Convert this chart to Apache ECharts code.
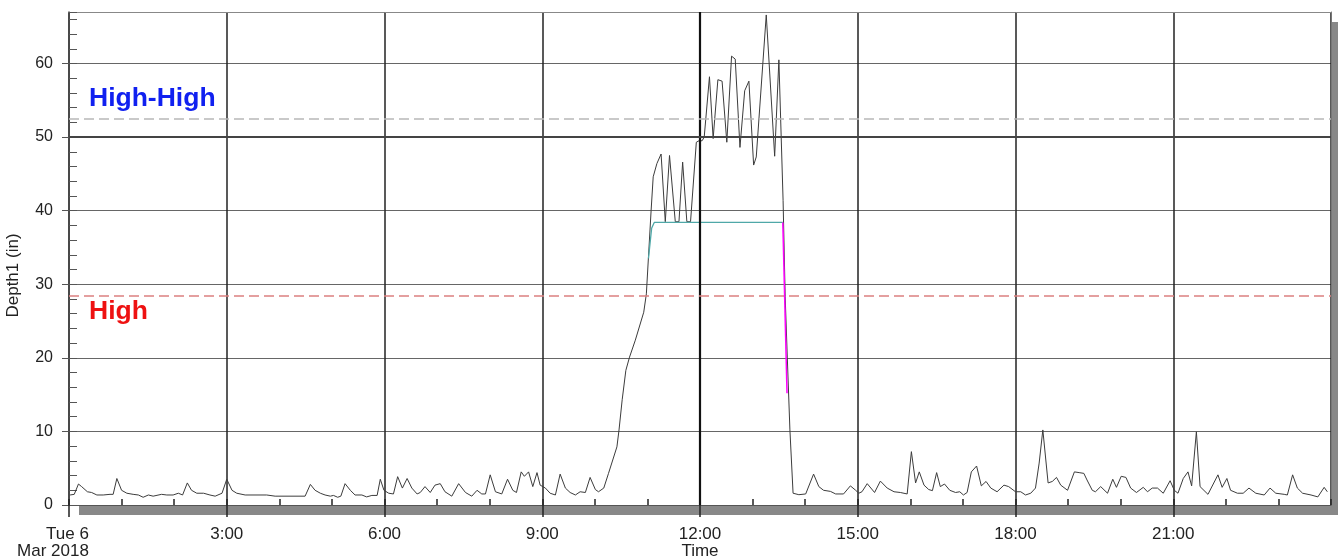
<!DOCTYPE html>
<html>
<head>
<meta charset="utf-8">
<script src="https://cdn.jsdelivr.net/npm/echarts@6/dist/echarts.min.js"></script>
<style>
html,body{margin:0;padding:0;background:#fff;}
#chart{width:1338px;height:559px;}
</style>
</head>
<body>
<div id="chart"></div>
<script>
// ---- data (hours since 0:00 Tue 6 Mar 2018, depth in inches) ----
const timeHours = [
 0.02,0.10,0.18,0.24,0.35,0.43,0.53,0.65,0.78,0.84,0.91,1.00,1.10,1.22,1.32,1.41,1.51,1.60,1.76,1.86,
 1.98,2.08,2.16,2.25,2.33,2.43,2.56,2.68,2.78,2.91,3.00,3.10,3.19,3.35,3.76,3.92,4.49,
 4.59,4.68,4.78,4.87,4.97,5.03,5.11,5.17,5.25,5.35,5.44,5.57,5.66,5.76,5.86,5.92,5.99,6.08,6.17,
 6.25,6.34,6.43,6.52,6.62,6.68,6.77,6.87,6.96,7.06,7.15,7.28,7.41,7.54,7.66,7.76,7.85,7.92,8.01,
 8.11,8.23,8.34,8.44,8.51,8.60,8.66,8.74,8.82,8.90,8.96,9.06,9.15,9.25,9.34,9.44,9.53,9.63,9.72,
 9.82,9.91,10.01,10.07,10.17,10.26,10.42,10.46,10.52,10.59,10.66,10.77,10.93,10.98,11.02,11.07,
 11.11,11.18,11.26,11.34,11.42,11.53,11.60,11.67,11.75,11.82,11.93,11.98,12.04,12.08,12.18,12.25,
 12.34,12.42,12.51,12.60,12.67,12.76,12.85,12.93,13.02,13.07,13.26,13.42,13.50,13.58,13.62,13.66,
 13.71,13.77,13.88,14.01,14.16,14.26,14.35,14.48,14.58,14.73,14.86,14.96,15.02,15.08,15.18,15.32,
 15.43,15.56,15.69,15.81,15.94,16.02,16.10,16.17,16.26,16.35,16.42,16.50,16.57,16.65,16.75,16.86,
 16.94,17.01,17.08,17.16,17.26,17.35,17.44,17.53,17.65,17.78,17.87,18.00,18.10,18.19,18.29,18.38,
 18.45,18.52,18.62,18.70,18.78,18.86,18.99,19.12,19.21,19.30,19.36,19.46,19.52,19.62,19.75,19.85,
 19.92,20.01,20.10,20.19,20.30,20.43,20.51,20.60,20.70,20.81,20.94,21.02,21.09,21.19,21.28,21.35,
 21.44,21.51,21.66,21.85,21.93,22.02,22.09,22.22,22.33,22.44,22.57,22.73,22.84,22.95,23.11,23.17,
 23.27,23.36,23.46,23.62,23.75,23.87,23.93
];
const depthIn = [
 1.36,1.45,2.85,2.5,1.8,1.7,1.36,1.36,1.45,1.45,3.6,2.0,1.6,1.45,1.36,1.05,1.36,1.2,1.45,1.36,
 1.36,1.6,1.36,3.0,2.0,1.6,1.6,1.36,1.2,1.6,3.5,2.0,1.6,1.36,1.36,1.2,1.2,
 2.8,2.0,1.6,1.36,1.2,1.3,1.05,1.2,2.9,2.0,1.36,1.36,1.1,1.3,1.3,3.5,2.0,1.6,1.5,
 3.85,2.3,3.6,2.3,1.5,1.7,2.5,1.7,2.7,2.9,1.8,1.2,2.9,1.7,1.2,2.0,1.5,1.5,4.1,
 1.8,1.5,3.5,2.0,1.7,4.5,3.9,4.5,2.5,4.4,2.7,2.3,1.6,1.36,4.2,2.3,1.7,1.36,1.8,
 1.7,3.75,2.1,1.8,2.3,4.3,7.9,10.2,14.3,18.3,20.1,22.4,26.2,28.7,33.7,40.0,
 44.6,46.4,47.7,38.5,47.5,38.5,38.5,46.6,38.5,38.5,49.3,49.5,49.5,50.0,58.2,49.8,
 57.8,57.6,49.3,61.0,60.6,48.6,56.3,57.6,46.2,47.3,66.6,47.4,60.5,41.4,28.3,20.1,
 10.2,1.6,1.4,1.5,4.2,2.5,2.0,1.85,1.5,1.5,2.6,2.0,1.6,1.8,2.9,1.7,
 3.25,2.3,1.8,1.7,1.5,7.25,3.0,4.5,2.7,2.1,1.95,4.4,2.5,2.85,2.0,1.7,
 1.8,1.36,1.7,4.5,5.3,2.6,3.2,2.3,1.8,2.7,2.5,1.8,1.8,1.36,1.6,2.3,
 5.7,10.2,3.0,3.2,3.75,2.7,2.0,4.5,4.4,4.3,3.4,2.0,1.8,2.5,1.6,3.5,
 2.4,3.9,3.75,2.3,1.7,2.4,1.8,2.3,2.3,1.6,3.3,2.0,1.6,3.6,4.5,2.6,
 9.95,2.5,1.45,4.1,2.4,3.6,2.0,1.6,1.6,2.3,1.6,1.36,2.3,1.6,1.45,1.36,
 4.1,2.3,1.6,1.36,1.1,2.4,1.8
];
const tealHours = [11.02, 11.08, 11.13, 13.575];
const tealVals  = [33.5, 37.6, 38.4, 38.4];
const magentaHours = [13.575, 13.655];
const magentaVals  = [38.4, 15.2];
const highHighLevel = 52.5;
const highLevel = 28.5;
const xTickHours = [0, 3, 6, 9, 12, 15, 18, 21];
const xTickLabels = ['Tue 6\nMar 2018', '3:00', '6:00', '9:00', '12:00', '15:00', '18:00', '21:00'];
const yName = 'Depth1 (in)';
const xName = 'Time';
const highHighText = 'High-High';
const highText = 'High';

// ---- build ----
const zip = (a, b) => a.map((v, i) => [v, b[i]]);
const FONT = "'Liberation Sans', Arial, sans-serif";
const chart = echarts.init(document.getElementById('chart'), null, {renderer: 'canvas'});

const X_MIN = 0, X_MAX = 24, Y_MIN = 0, Y_MAX = 67;
const frameAxisX = (pos) => ({
  type: 'value', min: X_MIN, max: X_MAX, position: pos,
  axisLine: {show: true, onZero: false, lineStyle: {color: pos === 'top' ? '#888' : '#555', width: 1}},
  axisTick: {show: false}, axisLabel: {show: false}, splitLine: {show: false}
});

const option = {
  animation: false,
  backgroundColor: '#fff',
  grid: {
    left: 69, top: 12, right: 7, bottom: 54,
    outerBoundsMode: 'none', containLabel: false,
    show: true, backgroundColor: '#fff', borderWidth: 0,
    shadowColor: '#888', shadowBlur: 0.001, shadowOffsetX: 10, shadowOffsetY: 10
  },
  xAxis: [
    {
      type: 'value', min: X_MIN, max: X_MAX, interval: 3,
      name: xName, nameLocation: 'middle', nameGap: 38, nameMoveOverlap: false,
      nameTextStyle: {fontFamily: FONT, fontSize: 17, color: '#222'},
      axisLine: {show: false},
      axisTick: {show: true, inside: false, length: 12, lineStyle: {color: '#222', width: 1.5}},
      axisLabel: {
        fontFamily: FONT, fontSize: 17, color: '#222', margin: 21, lineHeight: 17,
        showMaxLabel: false,
        formatter: v => {
          const i = xTickHours.indexOf(v);
          if (i < 0) return '';
          return i === 0 ? '{first|' + xTickLabels[i] + '}' : xTickLabels[i];
        },
        rich: {
          first: {align: 'right', padding: [0, 32, 0, 0], fontFamily: FONT, fontSize: 17,
                  lineHeight: 17, color: '#222'}
        }
      },
      splitLine: {show: true, lineStyle: {color: '#222', width: 1.5}}
    },
    {
      type: 'value', min: X_MIN, max: X_MAX, interval: 1, position: 'bottom',
      axisLine: {show: true, onZero: false, lineStyle: {color: '#555', width: 1}},
      axisTick: {show: true, inside: true, length: 6, lineStyle: {color: '#222', width: 1.5}},
      axisLabel: {show: false}, splitLine: {show: false}
    },
    frameAxisX('top')
  ],
  yAxis: [
    {
      type: 'value', min: Y_MIN, max: Y_MAX, interval: 10,
      name: yName, nameLocation: 'middle', nameGap: 47, nameMoveOverlap: false,
      nameTextStyle: {fontFamily: FONT, fontSize: 17, color: '#222', padding: [0, 34, 0, 0]},
      axisLine: {show: true, onZero: false, lineStyle: {color: '#444', width: 1.5}},
      axisTick: {show: true, inside: false, length: 7, lineStyle: {color: '#555', width: 1}},
      axisLabel: {
        fontFamily: FONT, fontSize: 16, color: '#222', margin: 16,
        showMaxLabel: false,
        formatter: v => (v % 10 === 0 ? String(v) : '')
      },
      splitLine: {show: true, lineStyle: {color: '#666', width: 1}}
    },
    {
      type: 'value', min: Y_MIN, max: Y_MAX, interval: 2, position: 'left',
      axisLine: {show: false},
      axisTick: {show: true, inside: true, length: 8, lineStyle: {color: '#555', width: 1}},
      axisLabel: {show: false}, splitLine: {show: false}
    },
    {
      type: 'value', min: Y_MIN, max: Y_MAX, position: 'right',
      axisLine: {show: true, onZero: false, lineStyle: {color: '#777', width: 1}},
      axisTick: {show: false}, axisLabel: {show: false}, splitLine: {show: false}
    }
  ],
  series: [
    {
      // emphasised grid lines and alarm levels (under the data)
      type: 'line', data: [], z: 1, silent: true,
      markLine: {
        symbol: 'none', silent: true, animation: false,
        data: [
          {xAxis: 12, lineStyle: {color: '#111', width: 2.2, type: 'solid'}, label: {show: false}},
          {yAxis: 50, lineStyle: {color: '#444', width: 2, type: 'solid'}, label: {show: false}},
          {yAxis: highHighLevel, lineStyle: {color: '#b8b8b8', width: 1.5, type: [10, 5]},
           label: {show: true, position: 'insideStartTop', formatter: highHighText, distance: [20, 7],
                   color: '#1020f0', fontFamily: FONT, fontWeight: 'bold', fontSize: 26.5}},
          {yAxis: highLevel, lineStyle: {color: '#dc8080', width: 1.5, type: [10, 5]},
           label: {show: true, position: 'insideStartBottom', formatter: highText, distance: [20, 3],
                   color: '#ee1111', fontFamily: FONT, fontWeight: 'bold', fontSize: 26.5}}
        ]
      }
    },
    {
      type: 'line', data: zip(timeHours, depthIn), z: 3,
      showSymbol: false, symbol: 'none',
      lineStyle: {color: '#3c3c3c', width: 1}
    },
    {
      type: 'line', data: zip(tealHours, tealVals), z: 4,
      showSymbol: false, symbol: 'none',
      lineStyle: {color: '#4fa8a8', width: 1.3}
    },
    {
      type: 'line', data: zip(magentaHours, magentaVals), z: 5,
      showSymbol: false, symbol: 'none',
      lineStyle: {color: '#ff00ff', width: 1.5}
    }
  ]
};
chart.setOption(option);
</script>
</body>
</html>
